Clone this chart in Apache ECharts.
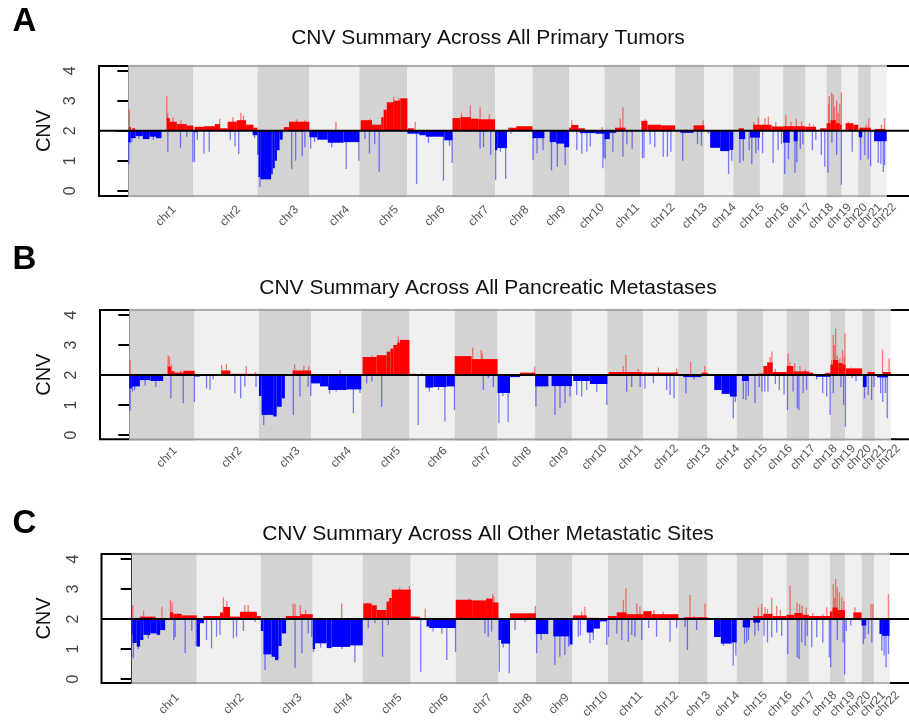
<!DOCTYPE html>
<html>
<head>
<meta charset="utf-8">
<title>CNV Summary</title>
<script src="https://cdn.jsdelivr.net/npm/echarts@6/dist/echarts.min.js"></script>
<style>
  html, body { margin: 0; padding: 0; background: #ffffff; }
  #chart { width: 909px; height: 721px; }
</style>
</head>
<body>
<div id="chart"></div>
<script>
// ---------------------------------------------------------------------------
// Genome layout (chromosome names and plotted lengths in Mb)
// ---------------------------------------------------------------------------
const chromNames = ['chr1','chr2','chr3','chr4','chr5','chr6','chr7','chr8','chr9','chr10','chr11',
  'chr12','chr13','chr14','chr15','chr16','chr17','chr18','chr19','chr20','chr21','chr22'];
const chromLengths = [247, 243, 197, 190, 182, 171, 162, 142, 139, 134, 135,
  133, 111, 110, 101, 88, 85, 80, 57, 63, 48, 60];
const yTicks = [0, 1, 2, 3, 4];
const baselineCN = 2;

const panelTitles = [
  'CNV Summary Across All Primary Tumors',
  'CNV Summary Across All Pancreatic Metastases',
  'CNV Summary Across All Other Metastatic Sites'
];
const panelLetters = ['A', 'B', 'C'];

// ---------------------------------------------------------------------------
// Segment-level mean copy number: [chromosome, start Mb, end Mb, CNV]
// Spikes (focal events): [chromosome, position Mb, CNV]
// ---------------------------------------------------------------------------
const segmentsPrimary = [
  [1,0,8,1.62],[1,8,28,1.75],[1,28,55,1.82],[1,55,80,1.72],[1,80,105,1.8],[1,105,126,1.75],
  [1,4,10,2.12],[1,15,25,2.08],[1,146,158,2.42],[1,158,184,2.3],[1,184,222,2.22],[1,222,247,2.17],
  [2,0,15,1.95],[2,225,243,1.85],[2,5,40,2.13],[2,40,82,2.15],[2,82,101,2.22],[2,101,130,2.08],
  [2,130,165,2.3],[2,165,200,2.35],[2,200,228,2.2],[2,228,243,2.1],
  [3,0,4,1.2],[3,4,12,0.45],[3,12,52,0.38],[3,52,58,0.55],[3,58,66,0.75],[3,66,74,1.0],
  [3,74,84,1.35],[3,84,96,1.7],[3,100,120,2.12],[3,120,197,2.3],
  [4,0,30,1.78],[4,30,70,1.7],[4,70,130,1.6],[4,130,190,1.62],
  [5,5,48,2.35],[5,48,83,2.2],[5,83,92,2.45],[5,92,104,2.7],[5,104,130,2.95],[5,130,155,3.0],[5,155,182,3.08],
  [6,0,45,1.9],[6,45,70,1.85],[6,70,140,1.8],[6,140,171,1.68],[6,2,25,2.08],
  [7,0,30,2.42],[7,30,70,2.45],[7,70,100,2.4],[7,100,162,2.38],
  [8,0,8,1.35],[8,8,45,1.42],[8,50,80,2.1],[8,80,142,2.15],
  [9,0,45,1.75],[9,65,90,1.62],[9,90,120,1.57],[9,120,139,1.45],
  [10,0,8,2.1],[10,8,35,2.19],[10,35,60,2.08],[10,40,100,1.92],[10,100,134,1.9],
  [11,40,80,2.1],[11,0,20,1.72],[11,20,45,1.93],
  [12,5,28,2.33],[12,28,80,2.2],[12,80,133,2.18],
  [13,20,70,1.93],[13,70,111,2.18],
  [14,22,60,1.43],[14,60,95,1.32],[14,95,110,1.36],
  [15,22,45,1.72],[15,63,101,1.77],[15,20,40,2.08],[15,75,101,2.2],
  [16,0,44,2.2],[16,44,88,2.14],
  [17,0,25,1.6],[17,40,55,1.65],[17,0,85,2.15],
  [18,0,40,2.13],[18,55,80,2.08],
  [19,0,15,2.25],[19,15,35,2.35],[19,35,50,2.25],[19,50,57,2.2],
  [20,15,45,2.25],[20,45,63,2.2],
  [21,5,48,2.1],[21,2,15,1.78],
  [22,12,60,1.65],[22,15,55,2.06]
];
const spikesPrimary = [
  [1,4,2.7],[1,146,3.15],[1,150,2.6],[1,170,2.45],[1,200,2.35],[1,2,0.9],[1,8,1.58],[1,14,1.62],
  [1,40,1.72],[1,95,1.7],[1,150,1.28],[1,198,1.42],[1,222,1.8],[1,245,0.95],
  [2,100,2.4],[2,150,2.45],[2,180,2.6],[2,190,2.5],[2,4,0.95],[2,15,1.7],[2,40,1.24],[2,60,1.3],
  [2,140,1.7],[2,158,1.48],[2,172,1.22],[2,232,1.75],
  [3,10,0.12],[3,130,0.72],[3,145,1.0],[3,170,1.15],[3,180,1.45],[3,150,2.38],[3,180,2.35],
  [4,5,1.4],[4,20,1.62],[4,85,1.45],[4,140,0.72],[4,188,1.0],[4,101,2.3],
  [5,40,2.4],[5,130,3.13],[5,150,3.1],[5,21,1.72],[5,38,1.24],[5,58,1.55],[5,75,0.63],
  [6,35,0.22],[6,80,1.6],[6,137,0.33],[6,160,1.5],[6,170,0.92],[6,30,2.3],
  [7,35,2.6],[7,68,2.85],[7,105,2.78],[7,140,2.55],[7,105,1.41],[7,118,1.45],[7,145,1.2],
  [8,2,0.36],[8,20,1.3],[8,40,0.4],[8,60,1.9],
  [9,2,1.02],[9,17,1.25],[9,40,1.35],[9,72,0.68],[9,94,0.8],[9,124,0.85],
  [10,10,2.35],[10,125,2.12],[10,29,1.36],[10,48,1.24],[10,67,1.3],[10,80,1.47],[10,128,0.75],[10,132,1.1],
  [11,60,2.4],[11,70,2.78],[11,3,1.05],[11,32,1.3],[11,70,1.13],[11,85,1.55],[11,105,1.4],
  [12,9,1.08],[12,15,1.1],[12,38,1.55],[12,56,1.45],[12,88,1.13],[12,104,1.13],[12,117,1.3],[12,20,2.38],
  [13,29,1.0],[13,85,1.55],[13,100,1.5],[13,106,2.35],[13,45,2.05],
  [14,92,0.55],[14,104,1.0],[14,15,1.9],
  [15,25,0.92],[15,38,1.0],[15,60,1.35],[15,70,0.9],[15,85,1.25],[15,95,1.35],[15,78,2.3],[15,95,2.45],
  [16,19,2.42],[16,32,2.47],[16,60,2.3],[16,10,1.25],[16,50,0.92],[16,69,1.35],[16,82,1.55],
  [17,6,0.55],[17,20,1.05],[17,45,0.6],[17,52,0.95],[17,65,1.4],[17,75,1.55],[17,10,2.53],[17,30,2.3],
  [17,50,2.4],[17,70,2.3],
  [18,15,2.25],[18,30,2.2],[18,26,1.35],[18,39,1.7],[18,60,1.2],[18,73,0.8],
  [19,8,2.9],[19,10,3.16],[19,19,3.27],[19,25,3.2],[19,30,2.8],[19,38,3.0],[19,44,2.6],[19,50,2.9],
  [19,56,3.27],[19,5,0.6],[19,38,1.2],[19,56,0.2],[19,20,1.6],
  [20,25,2.3],[20,40,1.3],
  [21,40,2.42],[21,30,2.2],[21,9,1.02],[21,25,1.18],[21,38,1.05],[21,47,0.82],
  [22,28,0.93],[22,38,0.9],[22,47,0.62],[22,52,0.85],[22,40,2.2],[22,52,2.42]
];

const segmentsPancreatic = [
  [1,0,10,1.55],[1,10,40,1.62],[1,40,80,1.83],[1,80,128,1.8],[1,145,158,2.28],[1,158,172,2.12],
  [1,172,204,2.08],[1,204,247,2.14],
  [2,0,20,1.95],[2,100,135,2.15],[2,140,240,2.04],
  [3,0,10,1.3],[3,10,54,0.67],[3,54,67,0.62],[3,67,86,0.94],[3,86,98,1.22],[3,127,197,2.15],
  [4,0,34,1.72],[4,34,65,1.62],[4,65,135,1.5],[4,135,190,1.52],
  [5,5,58,2.6],[5,58,96,2.66],[5,96,110,2.78],[5,110,121,2.88],[5,121,135,3.0],[5,135,146,3.08],[5,146,182,3.17],
  [6,0,25,2.04],[6,60,90,1.58],[6,90,140,1.6],[6,140,171,1.62],
  [7,0,64,2.63],[7,64,162,2.53],
  [8,0,47,1.4],[8,47,85,1.93],[8,85,142,2.08],
  [9,0,50,1.62],[9,62,139,1.63],
  [10,5,68,1.8],[10,68,134,1.7],
  [11,5,133,2.1],
  [12,0,133,2.08],
  [13,19,88,1.93],[13,88,111,2.08],
  [14,25,53,1.5],[14,53,84,1.37],[14,84,110,1.28],
  [15,20,45,1.8],[15,80,101,2.05],
  [16,0,14,2.3],[16,14,35,2.42],[16,35,88,2.1],
  [17,0,25,2.3],[17,25,85,2.12],
  [18,25,80,1.94],[18,0,15,2.08],[18,60,80,2.07],
  [19,0,10,2.35],[19,10,30,2.5],[19,30,45,2.4],[19,45,57,2.35],
  [20,2,63,2.22],
  [21,3,17,1.6],[21,20,48,2.1],
  [22,8,50,1.92],[22,30,60,2.1]
];
const spikesPancreatic = [
  [1,3,2.5],[1,147,2.67],[1,152,2.6],[1,160,2.35],[1,195,2.15],[1,3,0.8],[1,12,1.45],[1,20,1.5],
  [1,60,1.65],[1,100,1.6],[1,157,1.22],[1,204,1.06],[1,246,1.1],
  [2,102,2.33],[2,120,2.37],[2,195,2.3],[2,230,2.1],[2,45,1.55],[2,58,1.5],[2,70,1.85],[2,152,1.39],
  [2,174,1.22],[2,190,1.62],[2,232,1.6],
  [3,18,0.33],[3,20,0.7],[3,130,0.67],[3,155,1.28],[3,186,1.61],[3,196,1.3],[3,135,2.35],[3,170,2.3],[3,188,2.28],
  [4,70,1.38],[4,95,1.45],[4,160,0.72],[4,185,1.4],[4,110,2.17],
  [5,140,3.28],[5,40,2.65],[5,20,1.72],[5,40,1.78],[5,77,0.94],
  [6,33,0.33],[6,75,1.45],[6,110,1.5],[6,134,0.45],[6,170,0.83],[6,48,2.08],
  [7,68,2.92],[7,100,2.83],[7,105,2.72],[7,108,1.5],[7,146,1.6],[7,127,1.9],
  [8,5,0.39],[8,40,0.44],[8,20,1.3],[8,140,2.28],
  [9,3,0.94],[9,75,0.67],[9,94,0.9],[9,113,1.06],[9,132,1.28],
  [10,18,1.33],[10,37,1.28],[10,56,1.5],[10,94,1.44],[10,132,1.0],
  [11,70,2.67],[11,60,2.3],[11,117,2.2],[11,73,1.44],[11,92,1.6],[11,124,1.6],
  [12,58,2.25],[12,127,2.22],[12,7,1.55],[12,39,1.72],[12,89,1.5],[12,102,1.33],[12,117,1.22],
  [13,29,1.39],[13,60,1.85],[13,47,2.44],[13,100,2.3],
  [14,97,0.56],[14,105,1.1],
  [15,25,1.2],[15,35,1.17],[15,44,1.3],[15,69,1.06],[15,85,1.6],[15,95,1.45],
  [16,25,2.6],[16,32,2.78],[16,45,2.2],[16,5,1.44],[16,17,1.45],[16,45,1.7],[16,60,1.5],[16,78,1.35],
  [17,5,2.72],[17,12,2.45],[17,30,2.4],[17,50,2.3],[17,70,2.2],[17,3,0.83],[17,24,1.45],[17,40,0.89],
  [17,46,0.83],[17,62,1.4],[17,75,1.5],
  [18,28,1.85],[18,51,1.39],[18,66,1.28],[18,79,0.67],
  [19,5,2.5],[19,11,3.33],[19,15,3.0],[19,20,3.55],[19,26,2.65],[19,36,2.55],[19,46,2.83],[19,52,2.6],
  [19,55,3.39],[19,11,1.39],[19,40,1.6],[19,50,1.0],[19,57,0.28],
  [20,20,2.25],[20,25,1.9],[20,40,1.8],
  [21,9,1.22],[21,23,1.33],[21,36,1.17],[21,45,1.6],
  [22,22,1.39],[22,30,1.1],[22,47,0.56],[22,40,1.4],[22,29,2.85],[22,54,2.55]
];

const segmentsOther = [
  [1,0,3,1.5],[1,3,19,1.2],[1,19,32,1.08],[1,32,44,1.3],[1,44,70,1.47],[1,70,95,1.52],[1,95,108,1.47],
  [1,108,127,1.63],[1,30,90,2.08],[1,145,158,2.22],[1,158,190,2.17],[1,190,247,2.12],
  [2,0,12,1.08],[2,12,27,1.86],[2,25,88,2.1],[2,88,101,2.22],[2,101,126,2.4],[2,126,164,2.08],
  [2,164,228,2.24],[2,228,243,2.1],
  [3,0,10,1.6],[3,10,41,0.82],[3,41,54,0.74],[3,54,67,0.63],[3,67,79,1.1],[3,79,96,1.52],
  [3,95,150,2.1],[3,150,197,2.16],
  [4,0,9,1.0],[4,9,53,1.19],[4,53,72,1.03],[4,72,142,1.07],[4,142,190,1.12],
  [5,2,34,2.52],[5,34,53,2.46],[5,53,90,2.3],[5,90,100,2.58],[5,100,110,2.7],[5,110,182,2.98],
  [6,0,35,2.08],[6,60,70,1.75],[6,70,171,1.7],
  [7,0,62,2.64],[7,62,115,2.62],[7,115,140,2.68],[7,140,162,2.55],
  [8,0,10,1.3],[8,10,44,1.18],[8,44,142,2.19],
  [9,0,47,1.5],[9,66,128,1.42],[9,128,139,1.15],
  [10,2,54,2.12],[10,54,100,2.04],[10,54,79,1.55],[10,79,104,1.68],[10,104,130,1.92],
  [11,0,34,2.1],[11,34,70,2.22],[11,70,135,2.16],
  [12,0,31,2.26],[12,31,133,2.16],
  [13,20,111,2.06],
  [14,24,50,1.4],[14,50,91,1.18],[14,91,110,1.22],
  [15,23,51,1.72],[15,63,89,1.88],[15,63,101,2.1],
  [16,0,35,2.17],[16,35,88,2.1],
  [17,0,30,2.14],[17,30,60,2.2],[17,60,85,2.14],
  [18,0,80,2.1],
  [19,0,10,2.25],[19,10,30,2.38],[19,30,57,2.3],
  [20,32,63,2.22],
  [21,0,18,1.78],
  [22,20,30,1.5],[22,30,58,1.44]
];
const spikesOther = [
  [1,6,0.69],[1,25,1.0],[1,63,1.35],[1,160,1.3],[1,165,1.4],[1,203,0.86],[1,228,1.6],[1,245,1.1],
  [1,4,2.47],[1,45,2.28],[1,115,2.41],[1,147,2.63],[1,153,2.56],[1,175,2.2],
  [2,37,1.3],[2,56,1.02],[2,75,1.41],[2,88,1.47],[2,139,1.36],[2,151,1.41],[2,177,1.6],[2,221,1.9],
  [2,101,2.72],[2,114,2.6],[2,182,2.47],[2,195,2.47],
  [3,16,0.3],[3,130,0.36],[3,156,0.86],[3,180,1.52],[3,193,1.4],[3,123,2.52],[3,130,2.5],[3,150,2.47],[3,170,2.3],
  [4,3,0.9],[4,30,1.05],[4,110,1.0],[4,160,0.55],[4,110,2.52],
  [5,20,2.55],[5,140,3.05],[5,177,3.1],[5,21,1.69],[5,46,1.86],[5,75,0.74],[5,97,1.8],
  [6,38,0.24],[6,85,1.58],[6,118,1.52],[6,137,0.63],[6,170,0.9],[6,55,2.35],
  [7,50,2.68],[7,140,2.83],[7,145,2.75],[7,120,2.7],[7,111,1.52],[7,123,1.41],[7,136,1.58],
  [8,3,0.24],[8,18,1.05],[8,41,0.19],[8,63,1.63],[8,101,1.9],[8,140,2.43],
  [9,3,0.86],[9,20,1.3],[9,72,0.47],[9,91,0.74],[9,110,0.8],[9,124,1.08],[9,52,2.05],
  [10,35,2.25],[10,47,2.41],[10,22,1.41],[10,30,1.45],[10,66,1.19],[10,79,1.3],[10,130,1.13],
  [11,59,2.63],[11,69,3.02],[11,110,2.52],[11,122,2.41],[11,3,1.4],[11,34,1.52],[11,53,1.3],[11,78,1.24],
  [11,91,1.47],[11,103,1.41],[11,129,1.3],
  [12,40,2.3],[12,75,2.24],[12,50,1.41],[12,101,1.24],[12,126,1.69],[12,20,1.7],
  [13,44,2.8],[13,101,2.52],[13,60,2.1],[13,34,0.97],[13,69,1.63],[13,25,1.74],
  [14,97,0.44],[14,107,0.78],[14,60,1.1],
  [15,30,1.17],[15,38,1.22],[15,45,1.3],[15,69,1.45],[15,82,1.6],[15,82,2.38],[15,95,2.5],
  [16,7,2.39],[16,16,2.33],[16,32,2.72],[16,51,2.44],[16,65,2.3],[16,3,1.44],[16,16,1.22],[16,32,1.39],
  [16,51,1.55],[16,70,1.44],
  [17,14,3.11],[17,40,2.55],[17,50,2.5],[17,60,2.44],[17,75,2.38],[17,5,0.83],[17,41,0.72],[17,48,0.67],
  [17,58,1.22],[17,71,1.1],[17,79,1.44],
  [18,15,2.2],[18,53,2.16],[18,68,2.39],[18,11,1.06],[18,30,1.39],[18,53,1.22],[18,78,0.72],
  [19,13,3.17],[19,22,3.33],[19,28,3.06],[19,36,2.89],[19,45,2.72],[19,53,2.6],[19,18,2.7],[19,3,0.39],
  [19,28,1.3],[19,50,1.22],[19,56,0.15],
  [20,38,2.39],[20,5,1.6],[20,22,1.78],
  [21,7,1.17],[21,13,1.33],[21,26,1.5],[21,39,1.22],[21,36,2.5],[21,43,2.5],
  [22,29,0.94],[22,38,0.78],[22,45,0.39],[22,54,0.83],[22,54,2.83]
];

const panelSegments = [segmentsPrimary, segmentsPancreatic, segmentsOther];
const panelSpikes = [spikesPrimary, spikesPancreatic, spikesOther];

// ---------------------------------------------------------------------------
// Page layout (pixels)
// ---------------------------------------------------------------------------
const layouts = [
  { top: 66,  bottom: 196,   left: 99,    bandLeft: 128.3, bandRight: 886.7, base: 130.7, labelMargin: 20, titleY: 38,  letterY: 22 },
  { top: 310, bottom: 439.3, left: 100,   bandLeft: 129.3, bandRight: 890.7, base: 375,   labelMargin: 18, titleY: 288, letterY: 260 },
  { top: 554, bottom: 683,   left: 101.5, bandLeft: 131.7, bandRight: 890,   base: 619,   labelMargin: 21, titleY: 534, letterY: 524 }
];
const PX_PER_CN = 30;
const FRAME_RIGHT = 930;      // the plot frame continues past the page edge
const LABEL_SHIFT_PX = 5;     // chromosome labels sit a little right of the centre
const FONT = '"Liberation Sans", Arial, Helvetica, sans-serif';

const GAIN = '#ff0000', LOSS = '#0000ff';
const GAIN_SPIKE = 'rgba(255,40,40,0.6)', LOSS_SPIKE = 'rgba(40,40,255,0.6)';
const BAND_DARK = '#d3d3d3', BAND_LIGHT = '#f0f0f0';

// cumulative offsets of each chromosome along the genome axis
const chromOffsets = [];
let genomeLength = 0;
chromLengths.forEach(len => { chromOffsets.push(genomeLength); genomeLength += len; });

const toGenome = (chr, mb) => chromOffsets[chr - 1] + mb;

const chart = echarts.init(document.getElementById('chart'), null, { renderer: 'canvas' });

const grids = [], xAxes = [], yAxes = [], series = [], graphics = [];

layouts.forEach((L, p) => {
  const k = (L.bandRight - L.bandLeft) / genomeLength;       // px per Mb
  const xMin = -(L.bandLeft - L.left) / k;
  const xMax = genomeLength + (FRAME_RIGHT - L.bandRight) / k;
  const yMax = baselineCN + (L.base - L.top) / PX_PER_CN;
  const yMin = baselineCN - (L.bottom - L.base) / PX_PER_CN;

  grids.push({
    left: L.left, top: L.top, width: FRAME_RIGHT - L.left, height: L.bottom - L.top,
    show: true, borderColor: '#000', borderWidth: 2, backgroundColor: 'transparent',
    containLabel: false, outerBoundsMode: 'none'
  });

  // chromosome label anchors (centre of each chromosome, nudged right)
  const labelPos = chromNames.map((n, i) => chromOffsets[i] + chromLengths[i] / 2 + LABEL_SHIFT_PX / k);
  const nearestChrom = v => {
    let best = 0, bestD = Infinity;
    labelPos.forEach((pos, i) => { const d = Math.abs(pos - v); if (d < bestD) { bestD = d; best = i; } });
    return chromNames[best];
  };

  // labels are split over two bottom axes (odd / even chromosomes) so that
  // the crowded small chromosomes are all printed, overlapping as needed
  [0, 1].forEach(parity => {
    xAxes.push({
      gridIndex: p, type: 'value', min: xMin, max: xMax, position: 'bottom', offset: 0,
      axisLine: { show: false }, axisTick: { show: false }, splitLine: { show: false },
      axisLabel: {
        customValues: labelPos.filter((v, i) => i % 2 === parity),
        formatter: v => nearestChrom(Number(v)),
        hideOverlap: false,
        rotate: 45, align: 'center', verticalAlign: 'middle', margin: L.labelMargin,
        fontSize: 12, color: '#555', fontFamily: FONT
      }
    });
  });
  const xIdx = 2 * p;

  yAxes.push({
    gridIndex: p, type: 'value', min: yMin, max: yMax,
    splitLine: { show: false },
    axisLine: { show: true, lineStyle: { color: '#000', width: 2 } },
    axisTick: { show: true, customValues: yTicks, length: 11, lineStyle: { color: '#000', width: 2 } },
    axisLabel: {
      customValues: yTicks, rotate: 90, align: 'center', verticalAlign: 'middle', margin: 28,
      fontSize: 16, color: '#444', fontFamily: FONT
    }
  });

  // alternating chromosome bands
  series.push({
    type: 'custom', xAxisIndex: xIdx, yAxisIndex: p, silent: true, z: 1,
    data: chromLengths.map((len, i) => [chromOffsets[i], chromOffsets[i] + len, i]),
    encode: { x: [0, 1] },
    renderItem: (params, api) => {
      const s = api.coord([api.value(0), baselineCN]);
      const e = api.coord([api.value(1), baselineCN]);
      const cs = params.coordSys;
      const fill = api.value(2) % 2 === 0 ? BAND_DARK : BAND_LIGHT;
      return {
        type: 'group',
        children: [
          { type: 'rect', shape: { x: s[0], y: cs.y - 1.2, width: e[0] - s[0], height: cs.height + 2.4 }, style: { fill } },
          { type: 'line', shape: { x1: s[0], y1: cs.y, x2: e[0], y2: cs.y }, style: { stroke: '#999', lineWidth: 1.4 } },
          { type: 'line', shape: { x1: s[0], y1: cs.y + cs.height, x2: e[0], y2: cs.y + cs.height }, style: { stroke: '#999', lineWidth: 1.4 } }
        ]
      };
    }
  });

  // focal spikes (thin, translucent)
  series.push({
    type: 'custom', xAxisIndex: xIdx, yAxisIndex: p, silent: true, z: 2,
    data: panelSpikes[p].map(d => [toGenome(d[0], d[1]), d[2]]),
    encode: { x: 0, y: 1 },
    renderItem: (params, api) => {
      const v = api.value(1);
      const a = api.coord([api.value(0), baselineCN]);
      const b = api.coord([api.value(0), v]);
      return {
        type: 'line',
        shape: { x1: a[0], y1: a[1], x2: a[0], y2: b[1] },
        style: { stroke: v > baselineCN ? GAIN_SPIKE : LOSS_SPIKE, lineWidth: 1.3 }
      };
    }
  });

  // segment-level gains and losses
  series.push({
    type: 'custom', xAxisIndex: xIdx, yAxisIndex: p, silent: true, z: 3,
    data: panelSegments[p].map(d => [toGenome(d[0], d[1]), toGenome(d[0], d[2]), d[3]]),
    encode: { x: [0, 1], y: 2 },
    renderItem: (params, api) => {
      const v = api.value(2);
      const a = api.coord([api.value(0), baselineCN]);
      const b = api.coord([api.value(1), v]);
      return {
        type: 'rect',
        shape: { x: a[0], y: Math.min(a[1], b[1]), width: Math.max(b[0] - a[0], 1), height: Math.abs(b[1] - a[1]) },
        style: { fill: v > baselineCN ? GAIN : LOSS }
      };
    }
  });

  // diploid reference line
  series.push({
    type: 'custom', xAxisIndex: xIdx, yAxisIndex: p, silent: true, z: 5,
    data: [[0, baselineCN]],
    encode: { x: 0, y: 1 },
    renderItem: (params, api) => {
      const cs = params.coordSys;
      const y = api.coord([0, baselineCN])[1];
      return { type: 'line', shape: { x1: cs.x, y1: y, x2: cs.x + cs.width, y2: y }, style: { stroke: '#000', lineWidth: 2 } };
    }
  });

  graphics.push({
    type: 'text', x: 488, y: L.titleY, silent: true,
    style: { text: panelTitles[p], fill: '#111', fontSize: 21, fontFamily: FONT, align: 'center', verticalAlign: 'middle' }
  });
  graphics.push({
    type: 'text', x: 24.5, y: L.letterY, silent: true,
    style: { text: panelLetters[p], fill: '#000', fontSize: 33, fontWeight: 'bold', fontFamily: FONT, align: 'center', verticalAlign: 'middle' }
  });
  graphics.push({
    type: 'text', x: 44, y: (L.top + L.bottom) / 2, rotation: Math.PI / 2, silent: true,
    style: { text: 'CNV', fill: '#111', fontSize: 20, fontFamily: FONT, align: 'center', verticalAlign: 'middle' }
  });
});

chart.setOption({
  animation: false,
  backgroundColor: '#ffffff',
  grid: grids,
  xAxis: xAxes,
  yAxis: yAxes,
  series: series,
  graphic: graphics
});
</script>
</body>
</html>
